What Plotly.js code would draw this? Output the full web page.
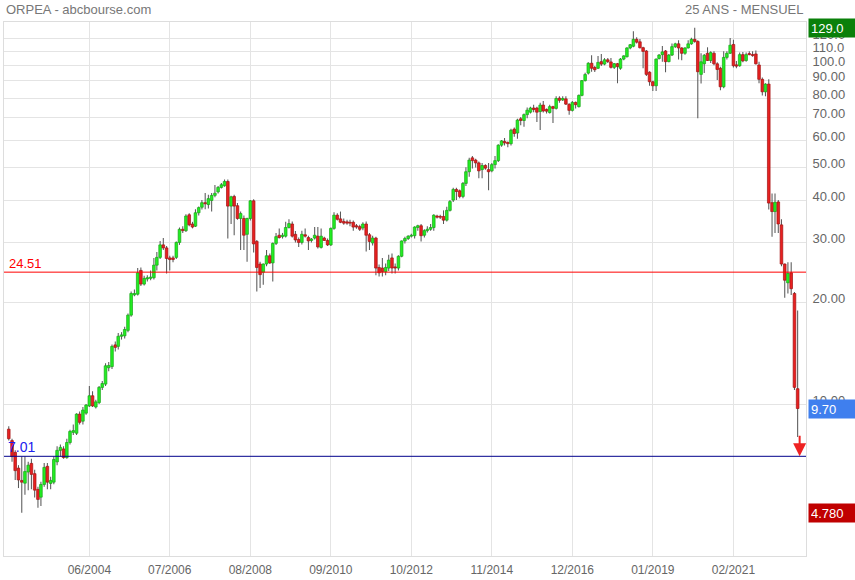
<!DOCTYPE html>
<html>
<head>
<meta charset="utf-8">
<script src="https://cdn.plot.ly/plotly-3.0.1.min.js"></script>
<style>html,body{margin:0;padding:0;background:#fff;}#chart{width:855px;height:580px;}</style>
</head>
<body>
<div id="chart"></div>
<script>
// Monthly ORPEA candles, first month 2002-05
const startYear = 2002, startMonth = 5;
const open = [8.43,7.8,7.2,6.47,5.95,5.84,6.3,6.68,6.23,5.6,5.31,5.79,6.55,5.83,5.88,6.75,7.3,7.37,6.95,7.7,
8.25,8.2,9.34,8.9,9.4,9.87,10.58,9.8,10.1,11.2,11.45,12.8,12.9,14.95,14.8,15.85,15.9,16.5,18.3,21.0,
21.1,24.8,22.6,23.4,23.5,23.6,25.7,27.1,29.5,28.9,27.0,27.0,27.1,30.0,32.8,32.5,36.2,34.0,33.5,36.7,
38.1,39.3,38.8,39.9,41.3,42.3,43.6,44.1,45.4,38.4,41.0,38.5,35.3,35.3,31.7,35.3,39.8,30.2,25.9,24.5,
25.9,27.4,26.1,29.8,31.5,31.2,31.3,33.2,34.0,31.7,30.6,30.0,31.6,31.0,30.4,30.9,31.3,29.0,30.9,30.4,
29.5,33.0,36.1,35.2,34.6,34.5,34.4,34.4,33.6,33.4,33.1,34.0,31.6,29.9,30.9,25.3,25.2,24.6,25.2,27.0,
25.4,25.2,27.3,30.3,30.8,31.3,31.4,33.2,33.6,31.5,32.5,32.8,33.2,35.9,35.8,35.8,34.9,37.3,40.0,43.0,
42.6,41.0,44.8,48.5,53.3,52.5,51.5,49.2,50.6,49.2,48.8,50.9,52.3,58.1,59.6,59.2,58.7,64.8,63.1,69.5,
68.7,71.5,72.7,74.8,74.8,73.0,76.3,74.1,72.5,75.5,74.6,80.0,79.0,79.6,76.7,73.6,77.7,75.5,81.5,90.1,
94.8,101.4,98.5,98.0,102.5,100.8,103.8,102.3,98.6,101.1,98.0,104.3,106.0,112.5,113.8,119.3,117.3,112.7,110.2,95.4,
89.4,87.0,104.7,107.5,110.2,102.5,107.2,113.5,115.7,112.5,108.5,112.5,115.7,119.3,117.6,94.0,101.0,108.5,103.3,108.5,
101.0,98.0,86.4,105.5,108.5,115.2,100.3,99.7,107.5,103.3,108.3,107.6,108.0,100.2,90.9,83.5,88.0,39.3,37.0,39.5,
33.8,25.9,22.8,24.4,21.2,11.1];
const high = [8.6,7.9,7.3,6.6,7.0,7.0,6.75,6.9,6.4,5.7,5.9,6.7,6.7,6.1,7.0,7.5,7.6,7.5,7.9,8.4,
8.7,9.4,9.5,9.8,10.0,11.3,10.9,10.3,11.3,11.7,13.2,13.3,15.0,15.3,16.2,16.3,16.9,18.5,21.5,21.8,
25.2,25.3,23.9,24.0,24.8,27.0,28.1,30.3,30.9,29.3,27.4,27.4,30.2,33.2,33.5,36.3,36.6,34.5,37.6,38.3,
40.0,42.0,41.5,42.0,44.3,44.0,44.9,46.0,46.0,41.2,41.5,39.2,37.0,36.0,35.5,40.0,40.2,30.5,26.3,26.0,
28.5,27.8,30.0,32.0,33.0,32.0,34.5,35.1,34.6,32.4,31.0,32.5,33.0,31.4,30.9,33.3,33.3,33.0,31.2,30.8,
33.2,36.8,36.6,37.0,35.3,35.0,35.0,34.8,34.0,33.8,34.4,34.6,32.0,31.4,31.2,25.8,27.0,26.0,27.6,27.8,
26.0,27.5,30.4,31.2,31.5,31.8,33.5,33.8,34.0,32.8,33.5,34.0,36.3,36.2,36.2,37.3,38.2,40.0,43.5,43.5,
43.0,45.2,50.0,53.3,54.0,53.0,52.0,51.5,51.0,51.5,51.5,54.0,58.5,60.2,61.0,59.6,65.0,65.5,69.5,70.3,
72.0,75.0,75.5,76.5,75.5,77.5,78.5,74.5,76.5,76.0,81.0,81.0,81.0,81.0,77.2,78.5,78.2,82.0,90.5,95.0,
102.0,107.0,99.5,106.5,108.0,105.0,105.0,105.0,101.5,101.6,105.0,107.0,113.0,115.5,126.0,121.0,119.5,113.5,111.0,96.0,
90.0,104.8,108.0,114.0,111.0,108.0,116.0,116.5,118.5,113.0,113.0,118.5,120.5,129.0,118.5,108.5,108.0,113.0,110.0,110.0,
102.0,99.0,110.0,110.0,120.3,119.0,103.0,109.0,109.5,109.0,110.0,110.0,110.5,102.5,92.0,88.5,90.9,41.8,41.8,40.0,
35.1,26.0,26.2,26.2,21.4,18.9];
const low = [7.8,6.75,5.97,5.65,4.78,5.4,5.57,5.6,5.3,4.94,5.0,5.7,5.6,5.6,5.8,6.6,7.0,6.9,6.9,7.6,
8.1,8.1,8.7,8.7,9.3,9.8,9.8,9.7,10.0,11.0,11.3,12.5,12.7,14.3,14.5,15.5,15.6,16.3,18.1,20.8,
20.9,22.3,22.4,23.0,23.2,23.3,24.8,26.8,28.5,24.3,24.8,26.2,26.8,29.5,32.0,32.2,33.5,33.0,33.3,36.0,
37.5,37.6,37.8,37.0,40.8,41.8,43.3,43.8,30.8,34.0,31.5,35.0,28.5,28.5,26.3,34.8,28.0,21.5,22.0,22.5,
25.5,25.9,23.0,29.5,30.8,30.8,31.0,33.0,31.0,30.0,29.1,29.6,31.0,28.5,30.0,30.6,28.8,28.8,30.3,29.3,
29.3,32.7,34.8,34.2,33.8,33.8,33.5,32.5,32.9,32.4,32.6,28.2,28.5,29.4,24.0,23.8,23.8,24.0,24.7,24.3,
24.3,24.8,27.1,29.8,30.5,31.0,30.8,32.5,30.2,31.0,32.1,32.5,32.5,35.3,35.2,34.0,34.6,37.0,39.5,40.0,
40.5,40.5,44.0,46.9,49.6,49.9,46.4,46.4,49.2,42.8,48.3,49.6,51.8,57.5,58.0,57.3,58.0,61.5,60.7,66.5,
65.9,69.8,72.0,72.7,68.0,64.4,72.5,72.0,72.0,67.6,74.0,77.5,78.5,76.3,71.5,73.0,74.5,75.0,81.0,89.5,
94.0,95.7,95.5,97.5,99.5,100.0,101.5,97.8,97.5,88.5,97.0,103.5,105.5,111.5,113.0,116.0,112.0,98.0,93.0,87.0,
84.0,84.0,104.0,102.5,95.4,102.0,106.5,112.5,104.0,103.5,107.5,112.0,115.0,116.5,69.8,88.4,94.9,103.0,101.5,100.0,
90.5,84.4,85.5,104.0,108.0,98.5,98.0,99.0,102.0,102.5,107.0,106.0,100.5,88.5,81.5,81.0,37.5,31.2,32.0,32.0,
25.5,20.6,21.2,21.0,11.0,8.0];
const close = [7.9,7.0,6.36,5.97,5.88,6.32,6.6,6.2,5.57,5.23,5.79,6.5,5.88,5.95,6.86,7.3,7.45,6.95,7.7,8.3,
8.35,9.34,8.83,9.6,9.93,10.58,9.87,10.15,11.2,11.5,12.97,13.0,14.8,14.7,15.85,16.0,16.6,18.3,21.2,21.2,
24.4,22.6,23.5,23.6,23.7,25.7,27.1,29.5,28.9,26.9,26.7,26.7,30.0,32.8,32.5,35.9,33.8,33.3,36.7,38.0,
39.3,39.0,40.4,41.3,41.9,43.6,44.4,45.4,38.4,40.9,38.4,35.3,36.5,31.5,35.3,39.8,29.7,25.3,24.1,25.9,
27.4,26.1,29.8,31.2,31.0,31.5,33.2,34.1,31.3,30.5,30.0,31.7,31.3,30.3,30.7,31.5,29.1,31.3,30.4,29.5,
33.0,36.1,35.1,34.4,34.2,34.2,34.2,33.3,33.3,32.8,34.0,31.5,30.2,30.9,25.2,24.4,24.6,25.3,26.6,25.2,
25.2,27.3,30.3,30.8,31.3,31.5,33.3,33.6,31.4,32.5,32.8,33.2,36.1,35.6,35.6,34.9,37.3,39.6,43.0,42.4,
41.0,44.8,48.5,52.5,52.3,51.5,48.8,50.6,49.7,48.5,50.9,52.3,58.1,59.8,59.0,58.7,64.3,62.9,68.9,68.7,
71.5,73.7,74.8,74.0,72.7,76.3,73.3,73.2,75.5,74.6,79.8,78.8,79.8,76.8,73.6,77.7,76.5,81.5,90.1,93.9,
101.4,98.0,97.0,102.0,100.8,103.8,102.5,98.6,101.1,99.1,104.3,106.6,112.5,115.0,119.3,117.0,112.7,109.9,94.0,89.4,
87.0,104.3,107.2,109.5,102.5,107.2,113.5,115.7,112.5,108.5,112.5,115.7,119.3,117.6,95.7,102.4,107.0,103.3,109.0,101.0,
97.2,86.4,105.5,108.5,114.6,99.7,99.4,107.5,103.0,107.5,107.5,106.8,101.0,90.9,83.5,88.0,39.2,37.0,39.4,34.0,
25.9,23.2,24.3,21.9,11.2,9.70];

const tickDates = ['2004-06-01','2006-07-01','2008-08-01','2010-09-01','2012-10-01','2014-11-01','2016-12-01','2019-01-01','2021-02-01'];
const tickLabels = ['06/2004','07/2006','08/2008','09/2010','10/2012','11/2014','12/2016','01/2019','02/2021'];
const yTicks = [10,20,30,40,50,60,70,80,90,100,110,120];
const yTickLabels = ['10.00','20.00','30.00','40.00','50.00','60.00','70.00','80.00','90.00','100.0','110.0','120.0'];
const resistance = 24.51, support = 7.01;
const lastValue = 9.70, maxValue = 129.0, minValue = 4.78;

const dates = [];
for (let i = 0; i < close.length; i++) {
  const m = startMonth - 1 + i;
  const y = startYear + Math.floor(m / 12);
  const mm = (m % 12) + 1;
  dates.push(y + '-' + String(mm).padStart(2, '0') + '-01');
}
const isUp = open.map((o, i) => close[i] >= o);
const bodyBase = open.map((o, i) => Math.min(o, close[i]));
const bodySize = open.map((o, i) => Math.max(Math.abs(close[i] - o), 0.001));
const wickSize = high.map((h, i) => h - low[i]);
const DAY = 86400000;

const wicks = {
  type: 'bar', x: dates, base: low, y: wickSize,
  width: dates.map(() => 10 * DAY),
  marker: {color: '#5a5a5a', line: {width: 0}},
  hoverinfo: 'skip'
};
const bodies = {
  type: 'bar', x: dates, base: bodyBase, y: bodySize,
  width: dates.map(() => 25 * DAY),
  marker: {
    color: isUp.map(u => u ? '#22ee22' : '#e82020'),
    line: {color: isUp.map(u => u ? '#16a516' : '#a01212'), width: 0.7}
  },
  hoverinfo: 'skip'
};

const gray = '#777777';
const font = 'Liberation Sans, Arial, sans-serif';
const layout = {
  width: 855, height: 580,
  margin: {l: 4, r: 49, t: 22, b: 24},
  paper_bgcolor: '#ffffff', plot_bgcolor: '#ffffff',
  showlegend: false, barmode: 'overlay',
  font: {family: font, size: 12, color: '#666666'},
  xaxis: {
    type: 'date', range: ['2002-03-17', '2022-12-19'],
    tickmode: 'array', tickvals: tickDates, ticktext: tickLabels,
    showgrid: true, gridcolor: '#e4e4e4', gridwidth: 1,
    showline: true, mirror: true, linecolor: '#dddddd', linewidth: 1,
    ticks: 'outside', ticklen: 3, tickcolor: 'rgba(0,0,0,0)',
    tickfont: {family: font, size: 12, color: '#666666'},
    zeroline: false, fixedrange: true
  },
  yaxis: {
    type: 'log', side: 'right', range: [Math.log10(3.56), Math.log10(134.2)],
    tickmode: 'array', tickvals: yTicks, ticktext: yTickLabels,
    showgrid: true, gridcolor: '#e4e4e4', gridwidth: 1,
    showline: true, mirror: true, linecolor: '#dddddd', linewidth: 1,
    ticks: 'outside', ticklen: 3, tickcolor: 'rgba(0,0,0,0)',
    ticklabelshift: -4,
    tickfont: {family: font, size: 13, color: '#666666'},
    zeroline: false, fixedrange: true
  },
  shapes: [
    {type: 'line', xref: 'paper', x0: 0, x1: 1, yref: 'y', y0: resistance, y1: resistance,
     line: {color: '#ff0000', width: 1}},
    {type: 'line', xref: 'paper', x0: 0, x1: 1, yref: 'y', y0: support, y1: support,
     line: {color: '#00008b', width: 1}}
  ],
  annotations: [
    {xref: 'paper', yref: 'paper', x: 0, y: 1.0243, xanchor: 'left', yanchor: 'middle', xshift: 0,
     text: 'ORPEA - abcbourse.com', showarrow: false, font: {family: font, size: 13, color: gray}},
    {xref: 'paper', yref: 'paper', x: 1, y: 1.0243, xanchor: 'right', yanchor: 'middle',
     text: '25 ANS - MENSUEL', showarrow: false, font: {family: font, size: 13, color: gray}},
    {xref: 'paper', yref: 'y', x: 0, y: Math.log10(resistance), xanchor: 'left', yanchor: 'middle',
     xshift: 3, yshift: 9, text: resistance.toFixed(2), showarrow: false,
     font: {family: font, size: 13, color: '#ff0000'}},
    {xref: 'paper', yref: 'y', x: 0, y: Math.log10(support), xanchor: 'left', yanchor: 'middle',
     xshift: 2, yshift: 9, text: support.toFixed(2), showarrow: false,
     font: {family: font, size: 14, color: '#2020ee'}},
    {xref: 'paper', yref: 'y', x: 1, y: Math.log10(maxValue), xanchor: 'left', yanchor: 'middle',
     xshift: 2, text: maxValue.toFixed(1), showarrow: false, align: 'left', width: 43, height: 14,
     bgcolor: '#0a800a', borderpad: 2, font: {family: font, size: 13, color: '#ffffff'}},
    {xref: 'paper', yref: 'y', x: 1, y: Math.log10(lastValue), xanchor: 'left', yanchor: 'middle',
     xshift: 2, text: lastValue.toFixed(2), showarrow: false, align: 'left', width: 43, height: 14,
     bgcolor: '#3f7fee', borderpad: 2, font: {family: font, size: 13, color: '#ffffff'}},
    {xref: 'paper', yref: 'y', x: 1, y: Math.log10(minValue), xanchor: 'left', yanchor: 'middle',
     xshift: 2, text: minValue.toFixed(3), showarrow: false, align: 'left', width: 43, height: 14,
     bgcolor: '#c00000', borderpad: 2, font: {family: font, size: 13, color: '#ffffff'}},
    {xref: 'x', yref: 'y', x: dates[dates.length - 1], y: Math.log10(support), xshift: 2,
     ax: 0, ay: -22, text: '', showarrow: true, arrowhead: 2, arrowsize: 1.3, arrowwidth: 2,
     arrowcolor: '#ee2222', standoff: 0}
  ]
};

Plotly.newPlot('chart', [wicks, bodies], layout, {displayModeBar: false, staticPlot: true});
</script>
</body>
</html>
